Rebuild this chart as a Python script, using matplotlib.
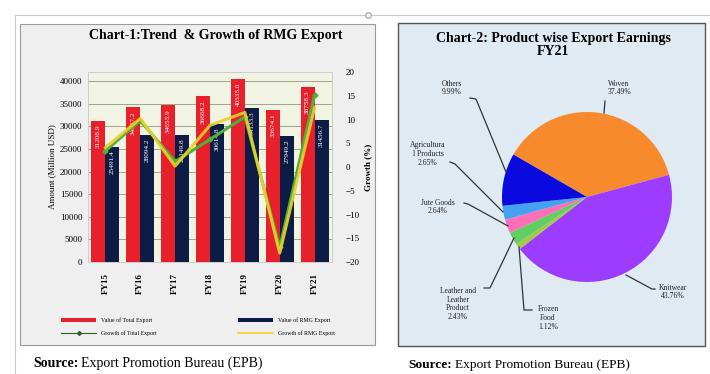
import numpy as np
import matplotlib.pyplot as plt
from matplotlib.patches import Rectangle
from matplotlib.lines import Line2D

plt.rcParams['font.family'] = ['Liberation Serif', 'DejaVu Serif']

# Chart-1 data
years = ['FY15', 'FY16', 'FY17', 'FY18', 'FY19', 'FY20', 'FY21']
total_export = [31208.9, 34257.2, 34655.9, 36668.2, 40535.0, 33674.1, 38758.3]
rmg_export = [25491.4, 28094.2, 28149.8, 30614.8, 34133.3, 27949.2, 31456.7]
growth_total = [3.39, 9.77, 1.16, 5.81, 10.55, -16.93, 15.10]
growth_rmg = [4.08, 10.21, 0.20, 8.76, 11.49, -18.12, 12.55]

# Chart-2 data (clockwise from Woven)
products = ['Woven', 'Knitwear', 'Frozen\nFood', 'Leather and\nLeather\nProduct',
            'Jute Goods', 'Agricultura\nl Products', 'Others']
shares = [37.49, 43.76, 1.12, 2.43, 2.64, 2.65, 9.99]
pie_colors = ['#f78a2c', '#9b3cff', '#a6c84a', '#5fcf63', '#ff6fb7', '#43a3f2', '#0a0adf']

W, H = 710, 374
fig = plt.figure(figsize=(7.1, 3.74), dpi=100)
fig.patch.set_facecolor('white')

def fx(px):
    return px / W

def fy(py):
    return 1 - py / H

# page decoration lines
fig.add_artist(Line2D([fx(15), fx(710)], [fy(15), fy(15)], color='#c8c8c8', lw=0.8))
fig.add_artist(Line2D([fx(15), fx(15)], [fy(15), fy(374)], color='#c8c8c8', lw=0.8))
fig.add_artist(Line2D([fx(368)], [fy(15)], marker='o', ms=4, mfc='white', mec='#b0b0b0'))

# panels
fig.add_artist(Rectangle((fx(20), fy(345)), fx(355), 321 / H, facecolor='#efefef',
                         edgecolor='#9a9a9a', lw=0.8, zorder=0))
fig.add_artist(Rectangle((fx(398), fy(346)), fx(307), 323 / H, facecolor='#dfeaf2',
                         edgecolor='#555555', lw=1.0, zorder=0))

# ---------- Chart-1 ----------
ax = fig.add_axes([fx(88), fy(262), fx(244), 190 / H])
ax.set_facecolor('#f1f4e2')
x = np.arange(len(years))
w = 0.4
b1 = ax.bar(x - w / 2, total_export, w, color='#e8202c', label='Value of Total Export', zorder=2)
b2 = ax.bar(x + w / 2, rmg_export, w, color='#0d1c44', label='Value of RMG Export', zorder=2)
for bars, vals in ((b1, total_export), (b2, rmg_export)):
    for r, v in zip(bars, vals):
        ax.text(r.get_x() + r.get_width() / 2, v - 900, f'{v:.1f}', rotation=90,
                ha='center', va='top', color='white', fontsize=5.2, zorder=3)
ax.set_ylim(0, 42000)
ax.set_yticks(range(0, 40001, 5000))
ax.set_xlim(-0.5, 6.5)
ax.set_xticks(x)
ax.set_xticklabels(years, rotation=90, fontsize=6.5, fontweight='bold')
ax.tick_params(axis='y', labelsize=6.5, length=0, pad=4)
ax.tick_params(axis='x', length=0, pad=8)
ax.yaxis.grid(True, color='#9aa58a', lw=0.7, zorder=1)
ax.set_axisbelow(True)
for s in ax.spines.values():
    s.set_color('#c8c8c8')
    s.set_linewidth(0.6)
ax.set_ylabel('Amount (Million USD)', fontsize=6.5, labelpad=3)

ax2 = ax.twinx()
l1, = ax2.plot(x, growth_total, color='#4fae3c', lw=2.2, marker='D', ms=2.5,
               label='Growth of Total Export', zorder=4)
l2, = ax2.plot(x, growth_rmg, color='#ecd22a', lw=2.2, alpha=0.9,
               label='Growth of RMG Export', zorder=5)
ax2.set_ylim(-20, 20)
ax2.set_yticks(range(-20, 21, 5))
ax2.tick_params(axis='y', labelsize=6.5, length=0, pad=10)
ax2.set_ylabel('Growth (%)', fontsize=6.5, fontweight='bold', labelpad=3, rotation=90)
for s in ax2.spines.values():
    s.set_visible(False)

leg_handles = [b1, Line2D([], [], color='#2e5e2e', lw=0.8, marker='D', ms=2),
               b2, Line2D([], [], color='#ecd22a', lw=1.2)]
leg_labels = ['Value of Total Export', 'Growth of Total Export',
              'Value of RMG Export', 'Growth of RMG Export']
fig.legend(leg_handles, leg_labels, ncol=2, loc='center',
           bbox_to_anchor=(fx(198), fy(327)), fontsize=4.2, frameon=False,
           columnspacing=14, handlelength=6, handleheight=0.8, labelspacing=1.3)

fig.text(fx(216), fy(35), 'Chart-1:Trend  & Growth of RMG Export', ha='center', va='center',
         fontsize=10, fontweight='bold')

# ---------- Chart-2 ----------
axp = fig.add_axes([fx(502), fy(282), fx(170), 170 / H])
axp.pie(shares, colors=pie_colors, startangle=150, counterclock=False,
        wedgeprops=dict(linewidth=0))
axp.set_xlim(-1, 1)
axp.set_ylim(-1, 1)
axp.set_aspect('equal')
axp.axis('off')

def d(px, py):
    return ((px - 587) / 85, (197 - py) / 85)

# label text centres, leader start (near text), leader end (on pie)
label_pos = [(619, 88), (673, 292), (548, 318), (458, 304), (438, 207), (428, 154), (452, 88)]
start_pos = [(605, 101), (655, 289), (532, 310), (484, 288), (464, 203), (450, 162), (470, 98)]
knee_pos = [(605, 101), (652, 289), (524, 310), (490, 288), (468, 204), (455, 164), (476, 99)]
tip_pos = [(604, 113), (626, 275), (519, 247), (514, 238), (508, 226), (503, 212), (506, 172)]
for name, val, lp, sp, kp, tp in zip(products, shares, label_pos, start_pos, knee_pos, tip_pos):
    axp.text(*d(*lp), f'{name}\n{val:.2f}%', ha='center', va='center',
             fontsize=5.5, color='#222222', linespacing=1.1, clip_on=False)
    pts = [d(*sp), d(*kp), d(*tp)]
    axp.plot([p[0] for p in pts], [p[1] for p in pts], color='#333333', lw=0.9,
             clip_on=False)

fig.text(fx(553), fy(45), 'Chart-2: Product wise Export Earnings\nFY21', ha='center',
         va='center', fontsize=10, fontweight='bold', linespacing=1.05)

# ---------- Sources ----------
fig.canvas.draw()
r = fig.canvas.get_renderer()
for sx, sy, fs in ((33, 367, 10), (408, 368, 9.6)):
    t = fig.text(fx(sx), fy(sy), 'Source:', fontweight='bold', fontsize=fs, va='baseline')
    bb = t.get_window_extent(renderer=r)
    fig.text(fx(bb.x1 + 3), fy(sy), 'Export Promotion Bureau (EPB)', fontsize=fs,
             va='baseline')

fig.savefig('out.png', dpi=100)
